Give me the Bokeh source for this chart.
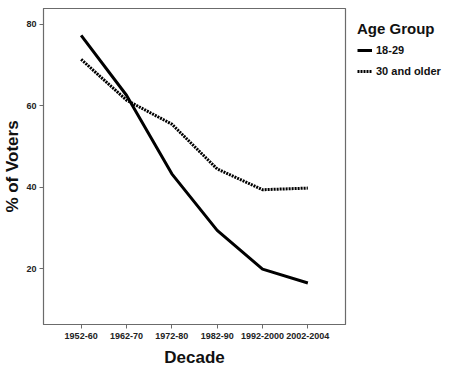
from bokeh.plotting import figure
from bokeh.models import Range1d, Legend, LegendItem, FixedTicker
from bokeh.embed import file_html
from bokeh.resources import INLINE

decades = ["1952-60", "1962-70", "1972-80", "1982-90", "1992-2000", "2002-2004"]
young = [77.3, 62.6, 43.3, 29.4, 19.9, 16.5]
older = [71.4, 61.4, 55.5, 44.5, 39.4, 39.8]
y_ticks = [20, 40, 60, 80]

xs = list(range(len(decades)))
Y0, Y1 = 6.3, 83.9

FW, FH = 302, 316
p = figure(frame_width=FW, frame_height=FH, output_backend="svg", toolbar_location=None,
           x_range=Range1d(-0.83, len(decades) - 1 + 0.83),
           y_range=Range1d(Y0, Y1),
           min_border_left=10, min_border_top=8, min_border_bottom=2, min_border_right=105)

p.xgrid.visible = False
p.ygrid.visible = False
p.outline_line_color = "#6b6b6b"
p.outline_line_width = 1.2

r1 = p.line(xs, young, line_color="black", line_width=3)
r2 = p.line(xs, older, line_color="black", line_width=3, line_dash="2 1")

p.xaxis.ticker = FixedTicker(ticks=xs)
p.xaxis.major_label_overrides = {i: d for i, d in enumerate(decades)}
p.yaxis.ticker = FixedTicker(ticks=y_ticks)

for ax in (p.xaxis[0], p.yaxis[0]):
    ax.axis_line_color = "#6b6b6b"
    ax.major_tick_line_color = "#6b6b6b"
    ax.major_tick_out = 4
    ax.major_tick_in = 0
    ax.minor_tick_line_color = None
    ax.major_label_text_font = "Liberation Sans"
    ax.major_label_text_font_style = "bold"
    ax.major_label_text_font_size = "9px"
    ax.major_label_text_color = "#222222"
    ax.axis_label_text_font = "Liberation Sans"
    ax.axis_label_text_font_style = "bold"
    ax.axis_label_text_font_size = "17px"
    ax.axis_label_text_color = "#111111"

p.xaxis.axis_label = "Decade"
p.yaxis.axis_label = "% of Voters"
p.xaxis.major_label_standoff = 4
p.xaxis.axis_label_standoff = 6
p.yaxis.major_label_standoff = 3
p.yaxis.axis_label_standoff = 1

legend = Legend(items=[LegendItem(label="18-29", renderers=[r1]),
                       LegendItem(label="30 and older", renderers=[r2])],
                title="Age Group", location="top_left")
legend.title_text_font = "Liberation Sans"
legend.title_text_font_style = "bold"
legend.title_text_font_size = "15px"
legend.title_text_color = "#111111"
legend.title_standoff = 6
legend.label_text_font = "Liberation Sans"
legend.label_text_font_style = "bold"
legend.label_text_font_size = "11px"
legend.label_text_color = "#111111"
legend.label_standoff = 4
legend.glyph_width = 15
legend.glyph_height = 14
legend.label_height = 14
legend.spacing = 7
legend.border_line_color = None
legend.background_fill_alpha = 0
legend.margin = 12
legend.padding = 0
legend.label_text_baseline = "middle"
p.add_layout(legend, "right")

open("out.html", "w").write(file_html(p, INLINE))
